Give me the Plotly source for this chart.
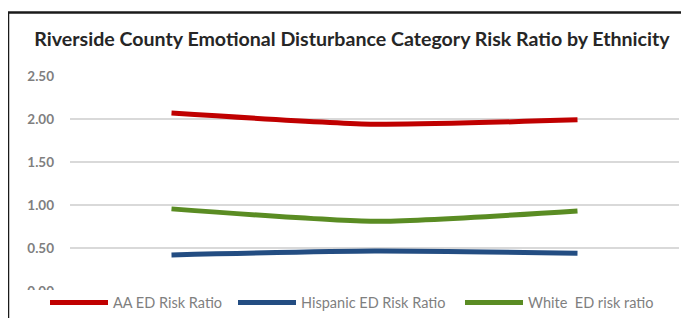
import plotly.graph_objects as go

categories = ["Year 1", "Year 2", "Year 3"]
aa_ed = [2.07, 1.94, 1.99]
hispanic_ed = [0.42, 0.465, 0.44]
white_ed = [0.955, 0.81, 0.93]
series_names = ["AA ED Risk Ratio", "Hispanic ED Risk Ratio", "White  ED risk ratio"]
series_colors = ["#C00000", "#234D82", "#5A8C23"]
y_ticks = [0, 0.5, 1.0, 1.5, 2.0, 2.5]

# page body has an 8px default margin: work in screen pixels and convert
OFF = 8
W, H = 689 - OFF, 318 - OFF
L, R, T, B = 70 - OFF, 10, 76 - OFF, 27
pw = W - L - R
ph = H - T - B

def px_x(p):  # screen px -> paper
    return (p - OFF - L) / pw

def px_y(p):
    return (H - B - (p - OFF)) / ph

legend_ids = ["legend", "legend2", "legend3"]
legend_x_px = [45, 233, 460]

fig = go.Figure()
for name, vals, col, lid in zip(series_names, [aa_ed, hispanic_ed, white_ed], series_colors, legend_ids):
    fig.add_trace(go.Scatter(
        x=categories, y=vals, name=name, mode="lines", legend=lid,
        line=dict(color=col, width=5, shape="spline", smoothing=0.6),
    ))

legend_common = dict(orientation="h", xanchor="left", y=px_y(302.5), yanchor="middle",
                     font=dict(family="Lato", size=14.5, color="#7F7F7F"),
                     bgcolor="rgba(0,0,0,0)", itemwidth=58)

fig.update_layout(
    width=W, height=H,
    margin=dict(l=L, r=R, t=T, b=B, autoexpand=False),
    paper_bgcolor="white", plot_bgcolor="white",
    title=dict(
        text="Riverside County Emotional Disturbance Category Risk Ratio by Ethnicity",
        font=dict(family="Lato", size=19.6, color="#262626", weight="bold"),
        x=(352 - OFF) / W, xanchor="center", y=1 - (39 - OFF) / H, yanchor="middle",
    ),
    xaxis=dict(showticklabels=False, showgrid=False, zeroline=False, showline=False,
               ticks="", range=[-0.5, 2.5]),
    yaxis=dict(range=[0, 2.5], tickvals=y_ticks, tickformat=".2f",
               showgrid=True, gridcolor="#D9D9D9", gridwidth=2, zeroline=False,
               showline=False, ticks="", ticklabelstandoff=15,
               tickfont=dict(family="Lato", size=13.5, color="#7F7F7F", weight="bold")),
    legend=dict(x=px_x(legend_x_px[0]), **legend_common),
    legend2=dict(x=px_x(legend_x_px[1]), **legend_common),
    legend3=dict(x=px_x(legend_x_px[2]), **legend_common),
    showlegend=True,
    shapes=[
        dict(type="rect", xref="paper", yref="paper", x0=px_x(9), x1=px_x(700),
             y0=px_y(330), y1=px_y(290), fillcolor="white", line=dict(width=0), layer="above"),
        dict(type="line", xref="paper", yref="paper", x0=px_x(8), x1=px_x(700),
             y0=px_y(12.5), y1=px_y(12.5), line=dict(color="#1A1A1A", width=2.5), layer="above"),
        dict(type="line", xref="paper", yref="paper", x0=px_x(8), x1=px_x(8),
             y0=px_y(12), y1=px_y(330), line=dict(color="#1A1A1A", width=2.5), layer="above"),
    ],
)

fig.write_html("out.html")
